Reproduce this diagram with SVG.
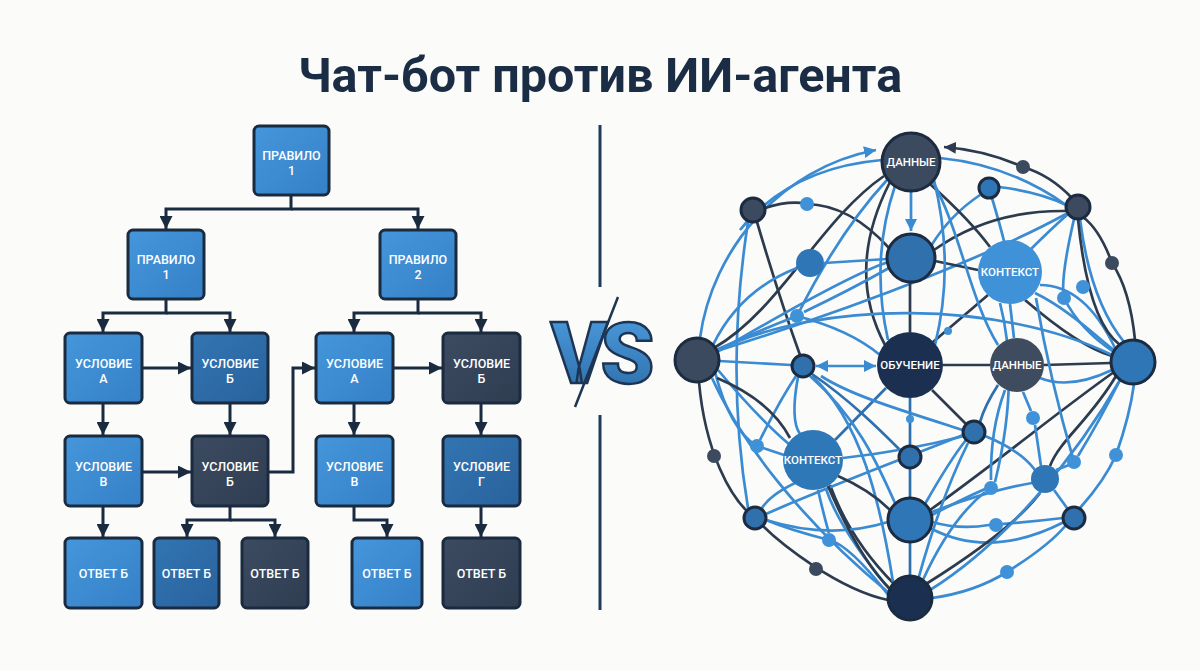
<svg xmlns="http://www.w3.org/2000/svg" width="1200" height="670" viewBox="0 0 1200 670">
<defs>
<marker id="ah" viewBox="0 0 10 10" refX="10" refY="5" markerUnits="userSpaceOnUse" markerWidth="13" markerHeight="13" orient="auto-start-reverse"><path d="M0,0 L10,5 L0,10 z" fill="#1a2b40"/></marker>
<marker id="al" viewBox="0 0 10 10" refX="10" refY="5" markerUnits="userSpaceOnUse" markerWidth="12" markerHeight="12" orient="auto-start-reverse"><path d="M0,0 L10,5 L0,10 z" fill="#3a8bd2"/></marker>
<marker id="ad" viewBox="0 0 10 10" refX="10" refY="5" markerUnits="userSpaceOnUse" markerWidth="12" markerHeight="12" orient="auto-start-reverse"><path d="M0,0 L10,5 L0,10 z" fill="#2d3b4f"/></marker>
<linearGradient id="gm" x1="0" y1="0" x2="1" y2="1"><stop offset="0" stop-color="#4596dc"/><stop offset="1" stop-color="#3580c6"/></linearGradient>
<linearGradient id="gd" x1="0" y1="0" x2="1" y2="1"><stop offset="0" stop-color="#3275b2"/><stop offset="1" stop-color="#29629c"/></linearGradient>
<linearGradient id="gs" x1="0" y1="0" x2="1" y2="1"><stop offset="0" stop-color="#3c4b61"/><stop offset="1" stop-color="#2f3d51"/></linearGradient>
<linearGradient id="gvs" x1="0" y1="0" x2="0" y2="1"><stop offset="0" stop-color="#4d9fe2"/><stop offset="1" stop-color="#2c6aa6"/></linearGradient>
<style>
.box{stroke:#1a2a3f;stroke-width:3}
.m{fill:url(#gm)} .d{fill:url(#gd)} .s{fill:url(#gs)}
.bt{font-family:Roboto,"Liberation Sans",sans-serif;font-size:12.5px;font-weight:500;fill:#ffffff;text-anchor:middle}
.fc{fill:none;stroke:#1a2b40;stroke-width:3}
.lb{fill:none;stroke:#3a8bd2;stroke-width:2.7}
.dk{fill:none;stroke:#2d3b4f;stroke-width:2.7}
.mb{fill:none;stroke:#2e6fae;stroke-width:2.7}
.nt{font-family:Roboto,"Liberation Sans",sans-serif;font-size:11.5px;font-weight:500;fill:#ffffff;text-anchor:middle}
.ns{stroke:#1c2b40;stroke-width:3}
</style>
</defs>
<rect width="1200" height="670" fill="#fbfbfa"/>
<text x="600" y="92" font-family="Roboto,'Liberation Sans',sans-serif" font-size="48.5" font-weight="700" fill="#1b2d45" text-anchor="middle">Чат-бот против ИИ-агента</text>

<!-- Left flowchart connectors -->
<g id="flow-connectors">
<path class="fc" d="M 291 195 V 209 H 166 V 229" marker-end="url(#ah)"/>
<path class="fc" d="M 291 209 H 418 V 229" marker-end="url(#ah)"/>
<path class="fc" d="M 166 299 V 313 H 103 V 332" marker-end="url(#ah)"/>
<path class="fc" d="M 166 313 H 230 V 332" marker-end="url(#ah)"/>
<path class="fc" d="M 418 299 V 313 H 354 V 332" marker-end="url(#ah)"/>
<path class="fc" d="M 418 313 H 481 V 332" marker-end="url(#ah)"/>
<path class="fc" d="M 142 368 H 191" marker-end="url(#ah)"/>
<path class="fc" d="M 393 368 H 442" marker-end="url(#ah)"/>
<path class="fc" d="M 103 403 V 435" marker-end="url(#ah)"/>
<path class="fc" d="M 230 403 V 435" marker-end="url(#ah)"/>
<path class="fc" d="M 354 403 V 435" marker-end="url(#ah)"/>
<path class="fc" d="M 481 403 V 435" marker-end="url(#ah)"/>
<path class="fc" d="M 142 472 H 191" marker-end="url(#ah)"/>
<path class="fc" d="M 268 472 H 293 V 368 H 315" marker-end="url(#ah)"/>
<path class="fc" d="M 103 506 V 537" marker-end="url(#ah)"/>
<path class="fc" d="M 230 506 V 520 H 187 V 537" marker-end="url(#ah)"/>
<path class="fc" d="M 230 520 H 275 V 537" marker-end="url(#ah)"/>
<path class="fc" d="M 354 506 V 520 H 387 V 537" marker-end="url(#ah)"/>
<path class="fc" d="M 481 506 V 537" marker-end="url(#ah)"/>
</g>

<g id="rule-top"><rect class="box m" x="254" y="126" width="75" height="69" rx="5"/><text class="bt" x="291.5" y="159.5">ПРАВИЛО</text><text class="bt" x="291.5" y="174.5">1</text></g>
<g id="rule-1"><rect class="box m" x="128" y="230" width="76" height="69" rx="5"/><text class="bt" x="166" y="263.5">ПРАВИЛО</text><text class="bt" x="166" y="278.5">1</text></g>
<g id="rule-2"><rect class="box m" x="380" y="230" width="76" height="69" rx="5"/><text class="bt" x="418" y="263.5">ПРАВИЛО</text><text class="bt" x="418" y="278.5">2</text></g>

<g id="cond-a1"><rect class="box m" x="65" y="333" width="77" height="70" rx="5"/><text class="bt" x="103.5" y="367.5">УСЛОВИЕ</text><text class="bt" x="103.5" y="382.5">А</text></g>
<g id="cond-b1"><rect class="box d" x="192" y="333" width="76" height="70" rx="5"/><text class="bt" x="230" y="367.5">УСЛОВИЕ</text><text class="bt" x="230" y="382.5">Б</text></g>
<g id="cond-a2"><rect class="box m" x="316" y="333" width="77" height="70" rx="5"/><text class="bt" x="354.5" y="367.5">УСЛОВИЕ</text><text class="bt" x="354.5" y="382.5">А</text></g>
<g id="cond-b2"><rect class="box s" x="443" y="333" width="77" height="70" rx="5"/><text class="bt" x="481.5" y="367.5">УСЛОВИЕ</text><text class="bt" x="481.5" y="382.5">Б</text></g>

<g id="cond-v1"><rect class="box m" x="65" y="436" width="77" height="70" rx="5"/><text class="bt" x="103.5" y="470.5">УСЛОВИЕ</text><text class="bt" x="103.5" y="485.5">В</text></g>
<g id="cond-x"><rect class="box s" x="192" y="436" width="76" height="70" rx="5"/><text class="bt" x="230" y="470.5">УСЛОВИЕ</text><text class="bt" x="230" y="485.5">Б</text></g>
<g id="cond-v2"><rect class="box m" x="316" y="436" width="77" height="70" rx="5"/><text class="bt" x="354.5" y="470.5">УСЛОВИЕ</text><text class="bt" x="354.5" y="485.5">В</text></g>
<g id="cond-g"><rect class="box d" x="443" y="436" width="77" height="70" rx="5"/><text class="bt" x="481.5" y="470.5">УСЛОВИЕ</text><text class="bt" x="481.5" y="485.5">Г</text></g>

<g id="ans-1"><rect class="box m" x="65" y="538" width="77" height="70" rx="5"/><text class="bt" x="103.5" y="577.5">ОТВЕТ Б</text></g>
<g id="ans-2"><rect class="box d" x="154" y="538" width="65" height="70" rx="5"/><text class="bt" x="186.5" y="577.5">ОТВЕТ Б</text></g>
<g id="ans-3"><rect class="box s" x="242" y="538" width="66" height="70" rx="5"/><text class="bt" x="275" y="577.5">ОТВЕТ Б</text></g>
<g id="ans-4"><rect class="box m" x="352" y="538" width="70" height="70" rx="5"/><text class="bt" x="387" y="577.5">ОТВЕТ Б</text></g>
<g id="ans-5"><rect class="box s" x="443" y="538" width="77" height="70" rx="5"/><text class="bt" x="481.5" y="577.5">ОТВЕТ Б</text></g>

<!-- divider and VS -->
<g id="divider">
<line x1="600" y1="125" x2="600" y2="287" stroke="#1e3a5c" stroke-width="3"/>
<line x1="600" y1="415" x2="600" y2="610" stroke="#1e3a5c" stroke-width="3"/>
<text x="599" y="383" font-family="Roboto,'Liberation Sans',sans-serif" font-size="86" font-weight="900" letter-spacing="-7" fill="url(#gvs)" stroke="#1d3553" stroke-width="2.5" text-anchor="middle">VS</text>
<line x1="618" y1="297" x2="575" y2="407" stroke="#1d3553" stroke-width="2.5"/>
</g>

<!-- Right network connectors -->
<g id="net-connectors">
<path class="lb" d="M 700 338 C 712 250, 780 168, 876 150" marker-end="url(#al)"/>
<path class="lb" d="M 911 191 L 911 231" marker-end="url(#al)"/>
<path class="lb" d="M 816 366 L 876 366" marker-start="url(#al)" marker-end="url(#al)"/>
<path class="dk" d="M 1072 198 Q 1050 175 1023 167 Q 985 150 944 147" marker-end="url(#ad)"/>
<path class="lb" d="M 1080 508 Q 1105 480 1116 455 Q 1130 415 1134 384"/>
<path class="lb" d="M 932 598 Q 975 592 1007 572 Q 1050 545 1066 525"/>
<path class="dk" d="M 699 382 C 705 450, 730 500, 755 518 C 780 545, 840 590, 888 600"/>
<path class="dk" d="M 1135 340 Q 1130 290 1112 263 Q 1100 230 1083 217"/>
<path class="lb" d="M 740 230 Q 790 168 882 160"/>
<path class="lb" d="M 748 222 Q 725 370 748 508"/>
<path class="dk" d="M 765 208 Q 790 200 807 204 Q 850 205 889 248"/>
<path class="dk" d="M 714 348 C 780 310, 820 220, 884 176"/>
<path class="dk" d="M 890 182 Q 845 270 885 345"/>
<path class="dk" d="M 757 222 Q 780 300 800 355"/>
<path class="lb" d="M 717 352 C 780 315, 850 275, 888 262"/>
<path class="lb" d="M 719 361 L 791 365"/>
<path class="lb" d="M 718 370 Q 760 420 790 445"/>
<path class="lb" d="M 715 372 Q 730 430 757 446 L 784 455"/>
<path class="lb" d="M 760 440 Q 780 400 796 376"/>
<path class="lb" d="M 797 268 Q 740 290 713 345"/>
<path class="lb" d="M 716 350 Q 760 330 797 316 Q 850 330 880 355"/>
<path class="lb" d="M 804 312 Q 850 290 889 268"/>
<path class="lb" d="M 797 316 C 820 270, 850 220, 887 180"/>
<path class="lb" d="M 824 263 L 887 259"/>
<path class="dk" d="M 717 378 Q 770 400 790 438"/>
<path class="lb" d="M 940 158 Q 1010 165 1066 205"/>
<path class="lb" d="M 999 187 Q 1040 192 1066 205"/>
<path class="lb" d="M 980 195 Q 950 215 931 246"/>
<path class="lb" d="M 992 198 Q 1000 225 1004 241"/>
<path class="dk" d="M 930 184 Q 970 220 990 247"/>
<path class="dk" d="M 1066 211 Q 990 210 934 250"/>
<path class="lb" d="M 1066 214 C 1000 250, 880 300, 720 350"/>
<path class="lb" d="M 1030 250 Q 1050 230 1068 214"/>
<path class="dk" d="M 935 261 L 978 270"/>
<path class="lb" d="M 1010 304 L 1014 338"/>
<path class="lb" d="M 1040 285 Q 1085 285 1115 348"/>
<path class="lb" d="M 1080 219 Q 1090 300 1124 342"/>
<path class="dk" d="M 1078 219 C 1085 290, 1100 330, 1120 345"/>
<path class="lb" d="M 1074 219 Q 1060 280 1064 298 Q 1080 330 1114 352"/>
<path class="dk" d="M 1025 300 C 1060 330, 1090 350, 1112 356"/>
<path class="lb" d="M 1035 293 C 1070 310, 1100 340, 1114 350"/>
<path class="dk" d="M 988 295 L 933 342"/>
<path class="dk" d="M 943 365 L 990 365"/>
<path class="dk" d="M 1044 365 L 1111 363"/>
<path class="dk" d="M 910 332 L 910 282"/>
<path class="lb" d="M 933 182 C 960 230, 970 300, 998 345"/>
<path class="lb" d="M 895 186 Q 870 260 888 340"/>
<path class="lb" d="M 934 180 Q 955 265 935 345"/>
<path class="lb" d="M 718 350 C 820 300, 1000 300, 1112 355"/>
<path class="mb" d="M 910 398 L 910 446"/>
<path class="mb" d="M 910 468 L 910 498"/>
<path class="mb" d="M 910 542 L 910 578"/>
<path class="mb" d="M 886 388 L 835 440"/>
<path class="dk" d="M 932 390 L 966 424"/>
<path class="lb" d="M 925 504 Q 950 460 966 440"/>
<path class="lb" d="M 932 515 Q 960 500 985 489"/>
<path class="lb" d="M 932 522 Q 960 530 989 525 Q 1030 522 1063 518"/>
<path class="lb" d="M 932 512 Q 990 490 1032 483"/>
<path class="dk" d="M 930 510 C 1000 460, 1060 410, 1114 372"/>
<path class="lb" d="M 930 528 Q 990 560 1064 522"/>
<path class="dk" d="M 926 584 C 980 550, 1020 520, 1040 493"/>
<path class="lb" d="M 918 580 Q 940 500 968 443"/>
<path class="lb" d="M 922 582 Q 950 520 985 492"/>
<path class="lb" d="M 930 590 C 1010 540, 1080 450, 1120 380"/>
<path class="lb" d="M 890 590 Q 840 530 826 489"/>
<path class="dk" d="M 895 585 Q 850 540 830 485"/>
<path class="lb" d="M 893 582 C 880 500, 860 420, 812 376"/>
<path class="lb" d="M 889 593 C 800 520, 740 440, 712 378"/>
<path class="lb" d="M 889 596 Q 850 545 829 540 Q 790 530 766 520"/>
<path class="lb" d="M 766 514 C 820 490, 900 460, 963 435"/>
<path class="lb" d="M 766 520 Q 830 540 888 522"/>
<path class="lb" d="M 795 483 Q 770 495 762 508"/>
<path class="dk" d="M 838 476 Q 870 490 890 510"/>
<path class="lb" d="M 798 377 Q 790 420 800 434"/>
<path class="mb" d="M 812 374 C 850 400, 880 430, 900 450"/>
<path class="lb" d="M 810 376 C 860 420, 880 470, 895 503"/>
<path class="lb" d="M 1005 390 Q 990 430 991 480"/>
<path class="lb" d="M 1023 392 L 1031 411"/>
<path class="lb" d="M 1035 425 L 1041 466"/>
<path class="mb" d="M 998 385 Q 985 405 980 422"/>
<path class="lb" d="M 985 436 Q 1020 450 1035 470"/>
<path class="lb" d="M 964 436 C 910 450, 870 455, 843 458"/>
<path class="lb" d="M 963 430 C 900 410, 850 395, 821 376"/>
<path class="lb" d="M 1054 490 L 1067 508"/>
<path class="lb" d="M 1056 470 L 1069 465"/>
<path class="lb" d="M 1078 456 Q 1100 420 1120 380"/>
<path class="dk" d="M 1116 376 C 1090 420, 1060 440, 1050 466"/>
<path class="lb" d="M 1000 303 Q 1020 380 995 482"/>
<path class="lb" d="M 1112 370 Q 1070 390 1040 378"/>
<path class="lb" d="M 818 490 Q 825 520 829 533"/>
<path class="lb" d="M 1036 298 Q 1050 380 1074 462"/>
<path class="dk" d="M 828 486 Q 860 560 891 590"/>
</g>

<!-- Right network nodes -->
<g id="n-small">
<circle cx="753" cy="210" r="12" fill="#3c4a5f" class="ns"/>
<circle cx="807" cy="204" r="7" fill="#3f92d8"/>
<circle cx="810" cy="263" r="14" fill="#2f76b6"/>
<circle cx="797" cy="316" r="7" fill="#3f92d8"/>
<circle cx="803" cy="366" r="11" fill="#2f70ad" class="ns"/>
<circle cx="1078" cy="207" r="12" fill="#3c4a5f" class="ns"/>
<circle cx="989" cy="188" r="10" fill="#2f76b6" class="ns"/>
<circle cx="1023" cy="167" r="7" fill="#3c4a5f"/>
<circle cx="1112" cy="263" r="7" fill="#3c4a5f"/>
<circle cx="1083" cy="287" r="7" fill="#3f92d8"/>
<circle cx="1064" cy="298" r="7" fill="#3f92d8"/>
<circle cx="948" cy="331" r="4" fill="#3f92d8"/>
<circle cx="910" cy="419" r="4" fill="#3f92d8"/>
<circle cx="910" cy="457" r="11" fill="#2f70ad" class="ns"/>
<circle cx="974" cy="432" r="11" fill="#2f70ad" class="ns"/>
<circle cx="1033" cy="418" r="7" fill="#3f92d8"/>
<circle cx="1074" cy="462" r="7" fill="#3f92d8"/>
<circle cx="1116" cy="455" r="7" fill="#3f92d8"/>
<circle cx="991" cy="488" r="7" fill="#3f92d8"/>
<circle cx="996" cy="525" r="7" fill="#3f92d8"/>
<circle cx="1007" cy="572" r="7" fill="#3f92d8"/>
<circle cx="1045" cy="479" r="14" fill="#2f76b6"/>
<circle cx="1074" cy="518" r="11" fill="#2f70ad" class="ns"/>
<circle cx="757" cy="446" r="7" fill="#3f92d8"/>
<circle cx="714" cy="456" r="7" fill="#3c4a5f"/>
<circle cx="755" cy="518" r="11" fill="#2f70ad" class="ns"/>
<circle cx="829" cy="540" r="7" fill="#3f92d8"/>
<circle cx="816" cy="569" r="7" fill="#3c4a5f"/>
</g>
<g id="n-left"><circle cx="697" cy="360" r="22" fill="#3c4a5f" class="ns"/></g>
<g id="n-right"><circle cx="1133" cy="362" r="22" fill="#2f76b6" class="ns"/></g>
<g id="n-bottom"><circle cx="910" cy="598" r="22" fill="#1b3050" class="ns"/></g>
<g id="n-lower"><circle cx="910" cy="520" r="22" fill="#2f76b6" class="ns"/></g>
<g id="n-b1"><circle cx="911" cy="258" r="24" fill="#2f70ad" class="ns"/></g>
<g id="n-data1"><circle cx="911" cy="162" r="29" fill="#3c4a5f" class="ns"/><text class="nt" x="911" y="166">ДАННЫЕ</text></g>
<g id="n-learn"><circle cx="910" cy="365" r="33" fill="#1b3050"/><text class="nt" x="910" y="369">ОБУЧЕНИЕ</text></g>
<g id="n-data2"><circle cx="1017" cy="365" r="27" fill="#3f4c5f"/><text class="nt" x="1017" y="369">ДАННЫЕ</text></g>
<g id="n-ctx1"><circle cx="1010" cy="272" r="32" fill="#3f91d8"/><text class="nt" x="1010" y="276">КОНТЕКСТ</text></g>
<g id="n-ctx2"><circle cx="813" cy="460" r="30" fill="#2f78b8"/><text class="nt" x="813" y="464">КОНТЕКСТ</text></g>
</svg>
